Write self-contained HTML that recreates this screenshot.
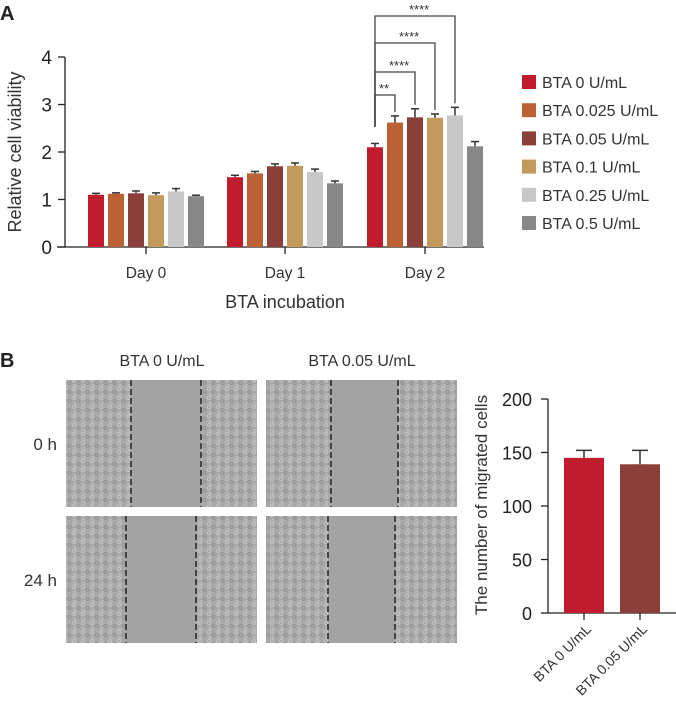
<!DOCTYPE html>
<html><head><meta charset="utf-8"><style>
body{margin:0;background:#fff}
svg{display:block;font-family:"Liberation Sans",sans-serif}
</style></head><body>
<svg width="676" height="720" viewBox="0 0 676 720" xmlns="http://www.w3.org/2000/svg">
<defs>
<pattern id="cells" width="9" height="9" patternUnits="userSpaceOnUse">
<rect width="9" height="9" fill="#a9a9a9"/>
<circle cx="2" cy="2" r="1.6" fill="none" stroke="#c8c8c8" stroke-width="0.8"/>
<circle cx="6.5" cy="5" r="1.5" fill="none" stroke="#8e8e8e" stroke-width="0.8"/>
<circle cx="3" cy="7.5" r="1.2" fill="none" stroke="#c2c2c2" stroke-width="0.7"/>
</pattern>
</defs>
<g id="chartA"></g>
<g id="panelB"></g>
<g id="chartB"></g>
</svg>
<script>
const groupsA = ["Day 0","Day 1","Day 2"];
const seriesA = ["BTA 0 U/mL","BTA 0.025 U/mL","BTA 0.05 U/mL","BTA 0.1 U/mL","BTA 0.25 U/mL","BTA 0.5 U/mL"];
const colorsA = ["#c01c2e","#bb6133","#8b3f38","#c39a5c","#c8c8c8","#878787"];
const valuesDay0 = [1.10,1.12,1.13,1.09,1.17,1.07];
const valuesDay1 = [1.47,1.55,1.70,1.71,1.58,1.34];
const valuesDay2 = [2.10,2.62,2.73,2.72,2.77,2.12];
const errDay0 = [0.03,0.02,0.05,0.05,0.06,0.02];
const errDay1 = [0.04,0.04,0.05,0.06,0.06,0.05];
const errDay2 = [0.08,0.14,0.18,0.08,0.17,0.10];
const ticksA = [0,1,2,3,4];
const sigTargets = [1,2,3,4];
const sigLabels = ["**","****","****","****"];
const catsB = ["BTA 0 U/mL","BTA 0.05 U/mL"];
const valuesB = [145,139];
const errB = [7,13];
const ticksB = [0,50,100,150,200];
const colorsB = ["#c01c2e","#8b3f38"];

const NS="http://www.w3.org/2000/svg";
function mk(parent,tag,attrs,text){const e=document.createElementNS(NS,tag);for(const k in attrs)e.setAttribute(k,attrs[k]);if(text!==undefined)e.textContent=text;parent.appendChild(e);return e;}

// Panel A
const A=document.getElementById('chartA');
const yA=v=>247-v*47.5;
const centers=[146,285,425];
const xBar=(g,i)=>centers[g]-58+i*20;
const vals=[valuesDay0,valuesDay1,valuesDay2], errs=[errDay0,errDay1,errDay2];
let t=mk(A,'text',{x:0,y:20,'font-size':20,'font-weight':'bold',fill:'#222'},'A');


let ax=mk(A,'line',{x1:65,y1:yA(4),x2:65,y2:247,stroke:'#222','stroke-width':1.3});


ax=mk(A,'line',{x1:57,y1:247,x2:484,y2:247,stroke:'#222','stroke-width':1.3});


ticksA.forEach(v=>{
  mk(A,'line',{x1:58,y1:yA(v),x2:65,y2:yA(v),stroke:'#222','stroke-width':1.3});
  const l=mk(A,'text',{x:52,y:yA(v)+7,'font-size':19,'text-anchor':'end',fill:'#222'},String(v));
  
  
});
groupsA.forEach((g,gi)=>{
  mk(A,'line',{x1:centers[gi],y1:247,x2:centers[gi],y2:254,stroke:'#222','stroke-width':1.3});
  const l=mk(A,'text',{x:centers[gi],y:278,'font-size':15.5,'text-anchor':'middle',fill:'#333'},g);
  
  
  vals[gi].forEach((v,i)=>{
    const x=xBar(gi,i);
    const r=mk(A,'rect',{x:x,y:yA(v),width:16,height:247-yA(v),fill:colorsA[i]});
    
    
    const ye=yA(v+errs[gi][i]);
    mk(A,'line',{x1:x+8,y1:yA(v),x2:x+8,y2:ye,stroke:'#333','stroke-width':1.5});
    mk(A,'line',{x1:x+4,y1:ye,x2:x+12,y2:ye,stroke:'#333','stroke-width':1.5});
  });
});
let yt=mk(A,'text',{x:0,y:0,'font-size':18,'text-anchor':'middle',fill:'#333',transform:'translate(21,152) rotate(-90)'},'Relative cell viability');


let xt=mk(A,'text',{x:285,y:308,'font-size':18,'text-anchor':'middle',fill:'#333'},'BTA incubation');


const levels=[95,72,43,16];
const x0=xBar(2,0)+8;
sigTargets.forEach((ti,k)=>{
  const xt2=xBar(2,ti)+8;
  const yl=levels[k];
  const yb=yA(valuesDay2[ti]+errDay2[ti])-4;
  const p=mk(A,'path',{d:`M${x0},127 V${yl} H${xt2} V${yb}`,fill:'none',stroke:'#444','stroke-width':1.3});
  
  
  const s=mk(A,'text',{x:x0+4+(k===0?0:(k*10)),y:yl-2,'font-size':13,fill:'#333'},sigLabels[k]);
  
  
});
seriesA.forEach((s,i)=>{
  const y=82+i*28.2;
  const r=mk(A,'rect',{x:522,y:y-7,width:14,height:14,fill:colorsA[i]});
  
  
  const l=mk(A,'text',{x:542,y:y+6,'font-size':16,fill:'#333'},s);
  
  
});

// Panel B images
const B=document.getElementById('panelB');
t=mk(B,'text',{x:0,y:367,'font-size':20,'font-weight':'bold',fill:'#222'},'B');


[["BTA 0 U/mL",162],["BTA 0.05 U/mL",362]].forEach(([s,x])=>{
  const l=mk(B,'text',{x:x,y:366,'font-size':16,'text-anchor':'middle',fill:'#333'},s);
  
  
});
[["0 h",450],["24 h",586]].forEach(([s,y])=>{
  const l=mk(B,'text',{x:57,y:y,'font-size':17,'text-anchor':'end',fill:'#333'},s);
  
  
});
const imgs=[[66,380,131,201],[266,380,331,398],[66,516,126,196],[266,516,328,395]];
imgs.forEach(([x,y,d1,d2],i)=>{
  const r=mk(B,'rect',{x:x,y:y,width:191,height:127,fill:'url(#cells)'});
  
  
  mk(B,'rect',{x:d1,y:y,width:d2-d1,height:127,fill:'#a3a3a3'});
  [d1,d2].forEach(d=>mk(B,'line',{x1:d,y1:y,x2:d,y2:y+127,stroke:'#111','stroke-width':1.3,'stroke-dasharray':'6,3'}));
});

// Panel B chart
const C=document.getElementById('chartB');
const yB=v=>613-v*1.07;
const bx=[564,620];
ax=mk(C,'line',{x1:548,y1:yB(200),x2:548,y2:613,stroke:'#222','stroke-width':1.3});


ax=mk(C,'line',{x1:548,y1:613,x2:676,y2:613,stroke:'#222','stroke-width':1.3});


ticksB.forEach(v=>{
  mk(C,'line',{x1:541,y1:yB(v),x2:548,y2:yB(v),stroke:'#222','stroke-width':1.3});
  const l=mk(C,'text',{x:532,y:yB(v)+7,'font-size':18,'text-anchor':'end',fill:'#222'},String(v));
  
  
});
catsB.forEach((c,i)=>{
  const x=bx[i], v=valuesB[i];
  const r=mk(C,'rect',{x:x,y:yB(v),width:40,height:613-yB(v),fill:colorsB[i]});
  
  
  const ye=yB(v+errB[i]);
  mk(C,'line',{x1:x+20,y1:yB(v),x2:x+20,y2:ye,stroke:'#333','stroke-width':1.5});
  mk(C,'line',{x1:x+12,y1:ye,x2:x+28,y2:ye,stroke:'#333','stroke-width':1.5});
  mk(C,'line',{x1:x+20,y1:613,x2:x+20,y2:620,stroke:'#222','stroke-width':1.3});
  const l=mk(C,'text',{x:0,y:0,'font-size':14,'text-anchor':'end',fill:'#333',transform:`translate(${x+28},630) rotate(-45)`},c);
  
  
});
yt=mk(C,'text',{x:0,y:0,'font-size':17,'text-anchor':'middle',fill:'#333',transform:'translate(487,505) rotate(-90)'},'The number of migrated cells');


</script>
</body></html>
